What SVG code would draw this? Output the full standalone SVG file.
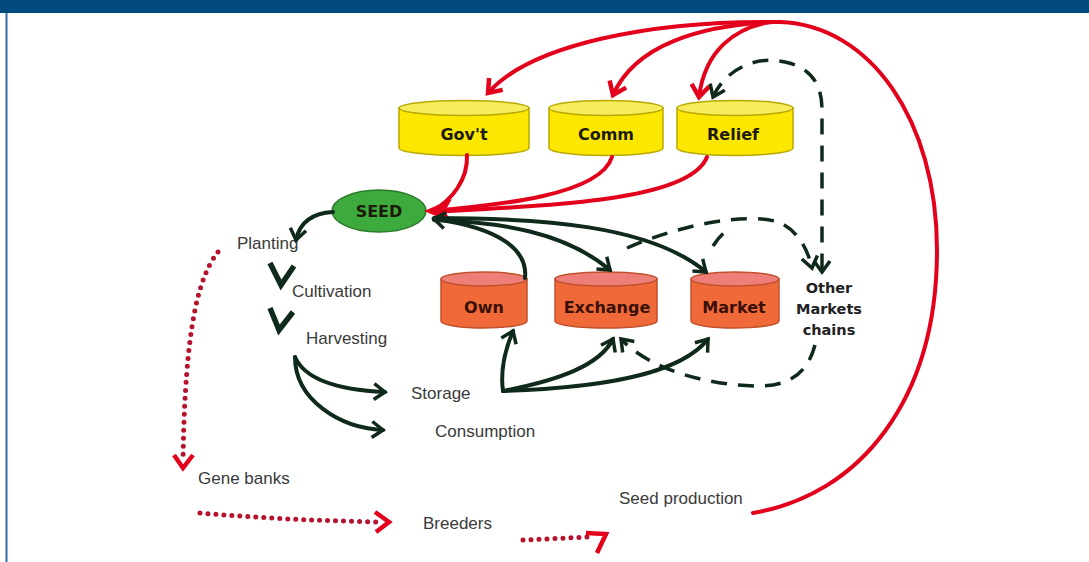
<svg xmlns="http://www.w3.org/2000/svg" width="1089" height="562" viewBox="0 0 1089 562">
<style>
.lbl{font-family:"Liberation Sans",Arial,sans-serif;font-size:17px;fill:#3a3a3a}
.bold{font-family:"DejaVu Sans",Verdana,sans-serif;font-weight:bold;font-size:16px;fill:#1e1a0a;text-anchor:middle}
.oth{font-family:"DejaVu Sans",Verdana,sans-serif;font-weight:bold;font-size:14.5px;fill:#222;text-anchor:middle}
.ybody{fill:#FBE700;stroke:#B9A800;stroke-width:1.5}
.ytop{fill:#F6EC5C;stroke:#B9A800;stroke-width:1.5}
.obody{fill:#EF6A38;stroke:#C2502C;stroke-width:1.5}
.otop{fill:#EE7F78;stroke:#C2502C;stroke-width:1.5}
.red{fill:none;stroke:#E3001B;stroke-width:4;stroke-linecap:round}
.blk{fill:none;stroke:#0F2A1B;stroke-width:4;stroke-linecap:round}
.dash{fill:none;stroke:#0F2A1B;stroke-width:3.5;stroke-dasharray:16 11}
.dot{fill:none;stroke:#B5122E;stroke-width:5;stroke-linecap:round;stroke-dasharray:0 8}
.rhead{fill:none;stroke:#E3001B;stroke-width:4.5}
</style>
<defs>
<marker id="mRed" markerUnits="userSpaceOnUse" markerWidth="32" markerHeight="32" viewBox="-16 -16 32 32" refX="0" refY="0" orient="auto"><path d="M-12,-9 L0,0 L-12,9" fill="none" stroke="#E3001B" stroke-width="4.5"/></marker>
<marker id="mBlk" markerUnits="userSpaceOnUse" markerWidth="30" markerHeight="30" viewBox="-15 -15 30 30" refX="0" refY="0" orient="auto"><path d="M-11,-8 L0,0 L-11,8" fill="none" stroke="#0F2A1B" stroke-width="3.5"/></marker>
<marker id="mBlkS" markerUnits="userSpaceOnUse" markerWidth="30" markerHeight="30" viewBox="-15 -15 30 30" refX="0" refY="0" orient="auto-start-reverse"><path d="M-11,-8 L0,0 L-11,8" fill="none" stroke="#0F2A1B" stroke-width="3.5"/></marker>
</defs>
<rect x="0" y="0" width="1089" height="13" fill="#004A80"/>
<line x1="6.5" y1="13" x2="6.5" y2="562" stroke="#2E6FAA" stroke-width="2"/>

<g id="govt">
<path class="ybody" d="M399,108 L399,148 A65,7.5 0 0 0 529,148 L529,108 Z"/>
<ellipse class="ytop" cx="464" cy="108" rx="65" ry="7.5"/>
<text class="bold" x="464" y="140">Gov't</text>
</g>
<g id="comm">
<path class="ybody" d="M549,108 L549,148 A57,7.5 0 0 0 663,148 L663,108 Z"/>
<ellipse class="ytop" cx="606" cy="108" rx="57" ry="7.5"/>
<text class="bold" x="606" y="140">Comm</text>
</g>
<g id="relief">
<path class="ybody" d="M677,108 L677,148 A58,7.5 0 0 0 793,148 L793,108 Z"/>
<ellipse class="ytop" cx="735" cy="108" rx="58" ry="7.5"/>
<text class="bold" x="733" y="140">Relief</text>
</g>
<g id="seed">
<ellipse cx="379" cy="211" rx="47" ry="21" fill="#3DAA3D" stroke="#2A7A2A" stroke-width="1.5"/>
<text class="bold" x="379" y="217" fill="#102010">SEED</text>
</g>
<g id="own">
<path class="obody" d="M441,279 L441,321 A43,7 0 0 0 527,321 L527,279 Z"/>
<ellipse class="otop" cx="484" cy="279" rx="43" ry="7"/>
<text class="bold" x="484" y="313" style="fill:#3a1008">Own</text>
</g>
<g id="exchange">
<path class="obody" d="M555,279 L555,321 A51,7 0 0 0 657,321 L657,279 Z"/>
<ellipse class="otop" cx="606" cy="279" rx="51" ry="7"/>
<text class="bold" x="607" y="313" style="fill:#3a1008">Exchange</text>
</g>
<g id="market">
<path class="obody" d="M691,279 L691,321 A44,7 0 0 0 779,321 L779,279 Z"/>
<ellipse class="otop" cx="735" cy="279" rx="44" ry="7"/>
<text class="bold" x="734" y="313" style="fill:#3a1008">Market</text>
</g>
<g id="other">
<text class="oth" x="829" y="293">Other</text>
<text class="oth" x="829" y="314">Markets</text>
<text class="oth" x="829" y="335">chains</text>
</g>
<g id="planting"><text class="lbl" x="237" y="249">Planting</text></g>
<g id="cultivation"><text class="lbl" x="292" y="297">Cultivation</text></g>
<g id="harvesting"><text class="lbl" x="306" y="344">Harvesting</text></g>
<g id="storage"><text class="lbl" x="411" y="399">Storage</text></g>
<g id="consumption"><text class="lbl" x="435" y="437">Consumption</text></g>
<g id="genebanks"><text class="lbl" x="198" y="484">Gene banks</text></g>
<g id="breeders"><text class="lbl" x="423" y="529">Breeders</text></g>
<g id="seedproduction"><text class="lbl" x="619" y="504">Seed production</text></g>

<g id="connectors">
<path class="red" d="M753,513 C860,495 937,400 937,250 C937,120 870,25 780,22"/>
<path class="red" d="M780,22 C650,20 530,45 488,93" marker-end="url(#mRed)"/>
<path class="red" d="M775,22 C700,25 635,45 613,95" marker-end="url(#mRed)"/>
<path class="red" d="M770,22 C735,28 705,50 699,97" marker-end="url(#mRed)"/>
<path class="red" d="M467,155 C468,180 452,200 432,211"/>
<path class="red" d="M612,157 C600,195 500,205 432,211"/>
<path class="red" d="M707,157 C690,200 560,205 432,212"/>
<polygon points="424,211 452,199 445,211 452,223" fill="#E3001B"/>
<path class="blk" d="M525,278 C528,250 500,228 434,219" marker-end="url(#mBlk)"/>
<path class="blk" d="M434,220 C500,222 565,232 610,270" marker-end="url(#mBlk)"/>
<path class="blk" d="M434,218 C540,218 650,225 706,272" marker-end="url(#mBlk)"/>
<path class="blk" d="M503,391 C500,370 505,350 513,331" marker-end="url(#mBlk)"/>
<path class="blk" d="M503,391 C560,380 600,365 613,339" marker-end="url(#mBlk)"/>
<path class="blk" d="M503,391 C600,388 680,375 708,339" marker-end="url(#mBlk)"/>
<path class="blk" d="M333,212 C315,213 300,220 296,240" marker-end="url(#mBlk)"/>
<path d="M270,263 L281,285 L294,266" fill="none" stroke="#0F2A1B" stroke-width="5.5" stroke-linejoin="miter"/>
<path d="M270,308 L279,330 L293,312" fill="none" stroke="#0F2A1B" stroke-width="5.5" stroke-linejoin="miter"/>
<path class="blk" d="M295,357 C305,380 340,390 385,392" marker-end="url(#mBlk)"/>
<path class="blk" d="M295,357 C295,400 340,428 383,430" marker-end="url(#mBlk)"/>
<path class="dash" d="M713,97 C725,70 755,55 785,62 C812,68 822,85 822,110 L822,272" marker-start="url(#mBlkS)" marker-end="url(#mBlk)"/>
<path class="dash" d="M627,248 C680,225 745,212 778,222 C798,230 808,250 812,268" marker-end="url(#mBlk)"/>
<path class="dash" d="M713,246 C718,238 724,232 730,228"/>
<path class="dash" d="M815,345 C808,372 790,386 760,386 C710,386 650,370 621,339" marker-end="url(#mBlk)"/>
<path class="dot" d="M218,252 C200,275 185,320 183,462"/>
<path class="rhead" d="M174,455 L183,468 L193,455"/>
<path class="dot" d="M200,513 C260,518 320,521 382,522"/>
<path class="rhead" d="M375,512 L389,522 L376,532"/>
<path class="dot" d="M523,540 L588,537"/>
<path class="rhead" d="M586,533 L606,534 L597,553"/>
</g>
</svg>
